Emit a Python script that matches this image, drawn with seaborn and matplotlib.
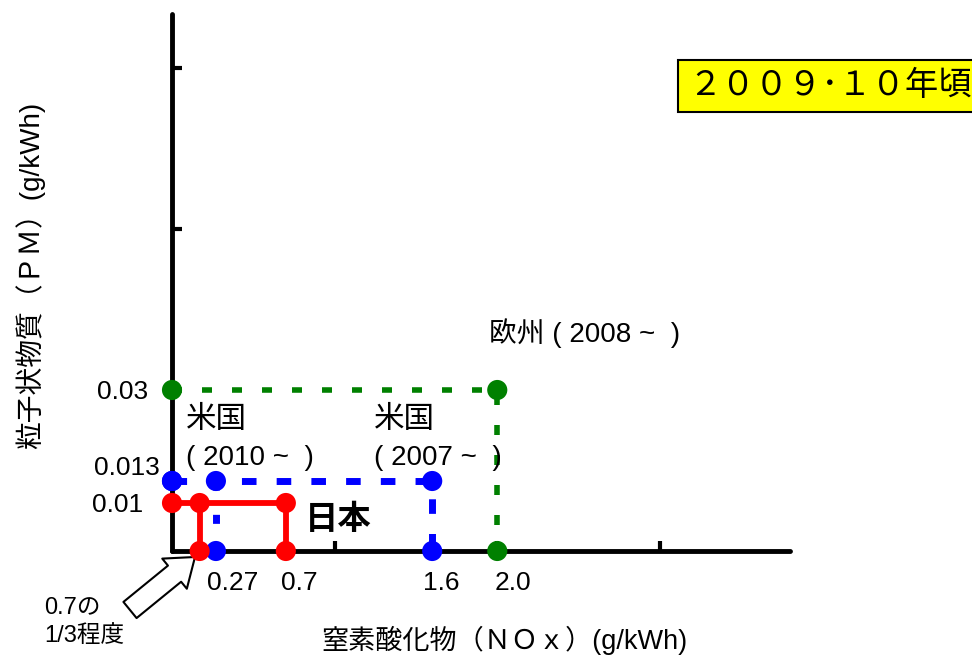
import numpy as np
import pandas as pd
import matplotlib
matplotlib.use("Agg")
import matplotlib.pyplot as plt
import seaborn as sns

# emission limits (NOx g/kWh, PM g/kWh)
regions = ["日本", "米国2010", "米国2007", "欧州2008"]
nox_limits = [0.7, 0.27, 1.6, 2.0]
pm_limits = [0.01, 0.013, 0.013, 0.03]
jp_target_nox = 0.17   # 0.7の1/3程度

x_labels = ["0.27", "0.7", "1.6", "2.0"]
y_labels = ["0.03", "0.013", "0.01"]

sns.set_style("white")
plt.rcParams["font.family"] = ["Liberation Sans", "Noto Sans CJK JP"]
plt.rcParams["text.color"] = "black"

W, H = 972, 663
fig = plt.figure(figsize=(W / 100, H / 100), dpi=100)

# schematic y axis: low values stretched a bit like the original
y_knots = [0, 0.01, 0.013, 0.03, 0.1]
y_pos = [0, 48, 70, 161, 537]
def fwd(v):
    return np.interp(v, y_knots, y_pos)
def inv(p):
    return np.interp(p, y_pos, y_knots)

ax = fig.add_axes([172 / W, (H - 551) / H, (790 - 172) / W, 537 / H])
ax.set_yscale("function", functions=(fwd, inv))
ax.set_xlim(0, 3.8)
ax.set_ylim(0, 0.1)

colors = {"日本": "#ff0000", "米国2010": "#0000ff", "米国2007": "#0000ff", "欧州2008": "#008000"}

# lines
ax.plot([0, nox_limits[0], nox_limits[0]], [pm_limits[0], pm_limits[0], 0],
        color="#ff0000", lw=4.2, solid_capstyle="butt", zorder=3, clip_on=False)
ax.plot([jp_target_nox, jp_target_nox], [pm_limits[0], 0],
        color="#ff0000", lw=4.2, zorder=3, clip_on=False)
ax.plot([0, nox_limits[2], nox_limits[2]], [pm_limits[2], pm_limits[2], 0],
        color="#0000ff", lw=5, dashes=(2.1, 2.9), zorder=2, clip_on=False)
ax.plot([nox_limits[1], nox_limits[1]], [pm_limits[1], 0],
        color="#0000ff", lw=5, dashes=(1.3, 3.5), zorder=2, clip_on=False)
ax.plot([0, nox_limits[3], nox_limits[3]], [pm_limits[3], pm_limits[3], 0],
        color="#008000", lw=4, dashes=(1.8, 3.6), zorder=2, clip_on=False)

# points
rows = []
for r, nx, pm in zip(regions, nox_limits, pm_limits):
    rows += [(r, 0, pm), (r, nx, pm), (r, nx, 0)]
rows += [("日本", jp_target_nox, pm_limits[0]), ("日本", jp_target_nox, 0)]
df = pd.DataFrame(rows, columns=["region", "nox", "pm"])
sns.scatterplot(data=df, x="nox", y="pm", hue="region", palette=colors,
                s=210, linewidth=0, legend=False, ax=ax, zorder=4, clip_on=False)

# axes look
sns.despine(ax=ax)
for side in ["left", "bottom"]:
    ax.spines[side].set_linewidth(3.5)
    ax.spines[side].set_color("black")
    ax.spines[side].set_capstyle("round")
ax.set_xticks([1, 2, 3])
ax.set_yticks([0.03, 0.06, 0.09])
ax.tick_params(bottom=True, left=True, direction="in", length=7, width=3, color="black",
               labelbottom=False, labelleft=False)
ax.set_xlabel("")
ax.set_ylabel("")

fs = 19
# value labels
x_dx = [17, 13, 9, 16]
for lab, v, dx in zip(x_labels, [nox_limits[1], nox_limits[0], nox_limits[2], nox_limits[3]], x_dx):
    ax.annotate(lab, xy=(v, 0), xytext=(dx, -32), textcoords="offset pixels",
                ha="center", va="center", fontsize=fs, annotation_clip=False)
y_off = [(-24, -2), (-12, 13), (-29, -2)]
for lab, v, (dx, dy) in zip(y_labels, [pm_limits[3], pm_limits[1], pm_limits[0]], y_off):
    ax.annotate(lab, xy=(0, v), xytext=(dx, dy), textcoords="offset pixels",
                ha="right", va="center", fontsize=fs, annotation_clip=False)

def ft(x, y, s, **kw):
    fig.text(x / W, 1 - y / H, s, **kw)

ft(186, 420, "米国", fontsize=22, va="center")
ft(186, 458, "( 2010 ~  )", fontsize=20, va="center")
ft(374, 420, "米国", fontsize=22, va="center")
ft(374, 458, "( 2007 ~  )", fontsize=20, va="center")
ft(489, 333, "欧州 ( 2008 ~  )", fontsize=20, va="center")
ft(305, 520, "日本", fontsize=24, fontweight="bold", va="center")

ft(504, 640, "窒素酸化物（ＮＯｘ）(g/kWh)", fontsize=19.5, ha="center", va="center")
ft(30, 275, "粒子状物質（ＰＭ）(g/kWh)", fontsize=20, ha="center", va="center", rotation=90)

ft(44, 607, "0.7の", fontsize=17, va="center")
ft(44, 636, "1/3程度", fontsize=17, va="center")

ax.annotate("", xy=(195, H - 557), xycoords="figure pixels",
            xytext=(130, H - 610), textcoords="figure pixels",
            arrowprops=dict(arrowstyle="simple,head_length=0.95,head_width=1.4,tail_width=0.75",
                            fc="white", ec="black", lw=1.5, shrinkA=0, shrinkB=0,
                            mutation_scale=20))

ft(688, 86, "２００９･１０年頃", fontsize=24, va="center",
   bbox=dict(boxstyle="square,pad=0.3", fc="#ffff00", ec="black", lw=1.5))

fig.savefig("out.png", dpi=100)
